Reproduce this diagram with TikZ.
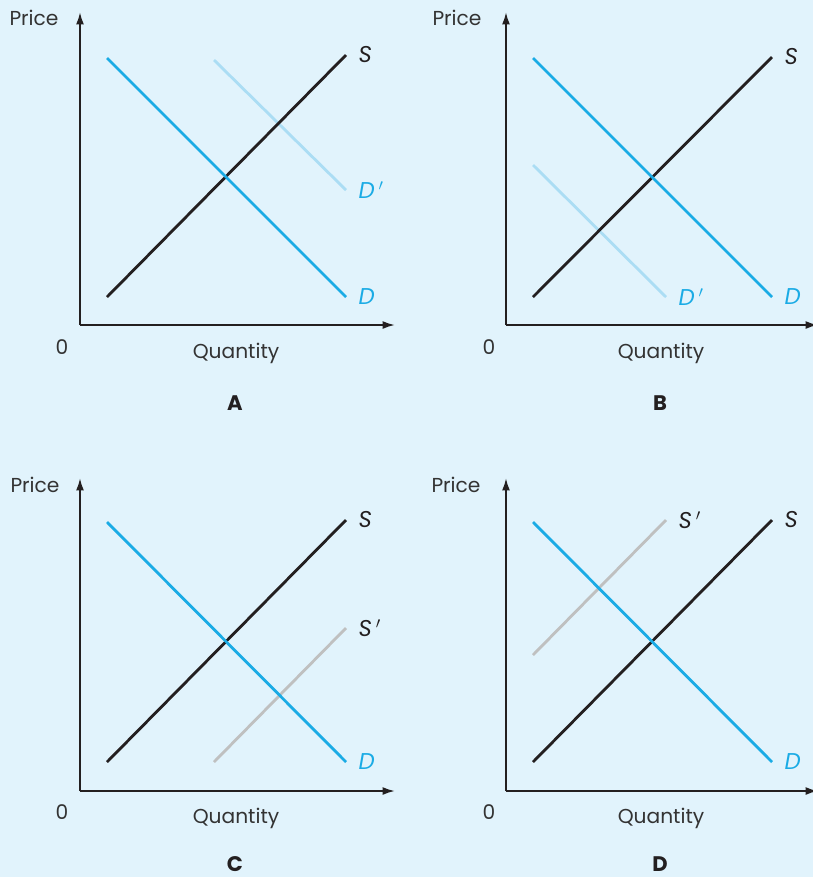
\documentclass[tikz,border=0pt]{standalone}
\usepackage{fontspec}
\setmainfont{Poppins}
\usetikzlibrary{arrows.meta}

\definecolor{bgcol}{HTML}{E1F3FC}
\definecolor{inkcol}{HTML}{231F20}
\definecolor{textcol}{HTML}{333333}
\definecolor{demandcol}{HTML}{1AABE5}
\definecolor{demandlight}{HTML}{ABDDF4}
\definecolor{supplylight}{HTML}{BFC0C0}

\begin{document}
\begin{tikzpicture}[
  x=0.02cm, y=-0.02cm,
  font=\fontsize{11.5}{13}\selectfont,
  axis/.style={draw=inkcol, line width=1.1pt, -{Latex[length=7pt,width=4.5pt]}},
  supply/.style={draw=inkcol, line width=1.6pt},
  demand/.style={draw=demandcol, line width=1.6pt},
  newdemand/.style={draw=demandlight, line width=1.6pt},
  newsupply/.style={draw=supplylight, line width=1.6pt},
  axislabel/.style={text=textcol, inner sep=0pt},
  panellabel/.style={text=inkcol, font=\fontsize{12}{14}\selectfont\bfseries, inner sep=0pt},
  curvelabel/.style={anchor=west, xshift=7pt, inner sep=0pt, font=\fontsize{13}{15}\selectfont\itshape}
]
\fill[bgcol] (0,0) rectangle (813,877);
\useasboundingbox (0,0) rectangle (813,877);

% panel A: demand shifts right
\coordinate (oA) at (80,325);
\coordinate (yA) at (80,12);
\coordinate (xA) at (395,325);
\draw[axis] (oA) -- (yA);
\draw[axis] (oA) -- (xA);
\node[axislabel] (priceA) at (34,18) {Price};
\node[axislabel] (zeroA) at (62,347) {0};
\node[axislabel] (qtyA) at (236,353) {Quantity};
\node[panellabel] (capA) at (235,403) {A};
\coordinate (sA1) at (107,297); \coordinate (sA2) at (346,55);
\coordinate (dA1) at (107,58);  \coordinate (dA2) at (346,297);
\coordinate (nA1) at (214,60);  \coordinate (nA2) at (346,190);
\draw[newdemand] (nA1) -- (nA2);
\draw[supply] (sA1) -- (sA2);
\draw[demand] (dA1) -- (dA2);
\node[curvelabel, text=inkcol] (lsA) at (sA2) {S};
\node[curvelabel, text=demandcol] (ldA) at (dA2) {D};
\node[curvelabel, text=demandcol] (lnA) at (nA2) {D\,$'$};

% panel B: demand shifts left
\coordinate (oB) at (506,325);
\coordinate (yB) at (506,12);
\coordinate (xB) at (818,325);
\draw[axis] (oB) -- (yB);
\draw[axis] (oB) -- (xB);
\node[axislabel] (priceB) at (457,18) {Price};
\node[axislabel] (zeroB) at (489,347) {0};
\node[axislabel] (qtyB) at (661,353) {Quantity};
\node[panellabel] (capB) at (660,403) {B};
\coordinate (sB1) at (533,297); \coordinate (sB2) at (772,57);
\coordinate (dB1) at (533,58);  \coordinate (dB2) at (772,297);
\coordinate (nB1) at (533,165); \coordinate (nB2) at (666,297);
\draw[newdemand] (nB1) -- (nB2);
\draw[supply] (sB1) -- (sB2);
\draw[demand] (dB1) -- (dB2);
\node[curvelabel, text=inkcol] (lsB) at (sB2) {S};
\node[curvelabel, text=demandcol] (ldB) at (dB2) {D};
\node[curvelabel, text=demandcol] (lnB) at (nB2) {D\,$'$};

% panel C: supply shifts right
\coordinate (oC) at (80,791);
\coordinate (yC) at (80,478);
\coordinate (xC) at (395,791);
\draw[axis] (oC) -- (yC);
\draw[axis] (oC) -- (xC);
\node[axislabel] (priceC) at (35,485) {Price};
\node[axislabel] (zeroC) at (62,812) {0};
\node[axislabel] (qtyC) at (236,818) {Quantity};
\node[panellabel] (capC) at (235,864) {C};
\coordinate (sC1) at (107,762); \coordinate (sC2) at (346,520);
\coordinate (dC1) at (107,522); \coordinate (dC2) at (346,762);
\coordinate (nC1) at (214,762); \coordinate (nC2) at (346,628);
\draw[newsupply] (nC1) -- (nC2);
\draw[supply] (sC1) -- (sC2);
\draw[demand] (dC1) -- (dC2);
\node[curvelabel, text=inkcol] (lsC) at (sC2) {S};
\node[curvelabel, text=demandcol] (ldC) at (dC2) {D};
\node[curvelabel, text=inkcol] (lnC) at (nC2) {S\,$'$};

% panel D: supply shifts left
\coordinate (oD) at (506,791);
\coordinate (yD) at (506,478);
\coordinate (xD) at (818,791);
\draw[axis] (oD) -- (yD);
\draw[axis] (oD) -- (xD);
\node[axislabel] (priceD) at (456,485) {Price};
\node[axislabel] (zeroD) at (489,812) {0};
\node[axislabel] (qtyD) at (661,818) {Quantity};
\node[panellabel] (capD) at (660,864) {D};
\coordinate (sD1) at (533,762); \coordinate (sD2) at (772,520);
\coordinate (dD1) at (533,522); \coordinate (dD2) at (772,762);
\coordinate (nD1) at (533,655); \coordinate (nD2) at (666,520);
\draw[newsupply] (nD1) -- (nD2);
\draw[supply] (sD1) -- (sD2);
\draw[demand] (dD1) -- (dD2);
\node[curvelabel, text=inkcol] (lsD) at (sD2) {S};
\node[curvelabel, text=demandcol] (ldD) at (dD2) {D};
\node[curvelabel, text=inkcol] (lnD) at (nD2) {S\,$'$};
\end{tikzpicture}
\end{document}
